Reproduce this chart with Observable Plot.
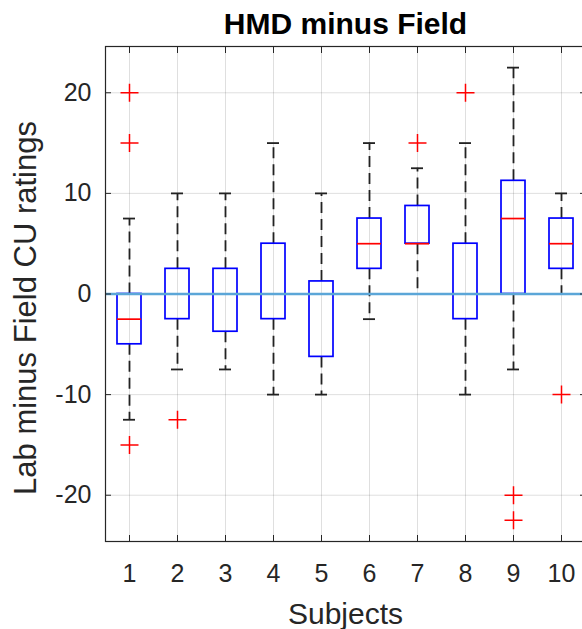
<!DOCTYPE html>
<html>
<head>
<meta charset="utf-8">
<script src="https://cdn.jsdelivr.net/npm/d3@7"></script>
<script src="https://cdn.jsdelivr.net/npm/@observablehq/plot@0.6"></script>
<style>
  html, body { margin: 0; padding: 0; background: #fff; overflow: hidden; }
</style>
</head>
<body>
<div id="chart"></div>
<script>
// Per-subject box plot statistics (HMD rating minus field rating)
const subjects     = [1, 2, 3, 4, 5, 6, 7, 8, 9, 10];
const q1           = [-5, -2.5, -3.75, -2.5, -6.25, 2.5, 5, -2.5, 0, 2.5];
const medians      = [-2.5, 0, 0, 0, 0, 5, 5, 0, 7.5, 5];
const q3           = [0, 2.5, 2.5, 5, 1.25, 7.5, 8.75, 5, 11.25, 7.5];
const lowerWhisker = [-12.5, -7.5, -7.5, -10, -10, -2.5, 0, -10, -7.5, 0];
const upperWhisker = [7.5, 10, 10, 15, 10, 15, 12.5, 15, 22.5, 10];

// Outlying ratings
const outlierSubjects = [1, 1, 1, 2, 7, 8, 9, 9, 10];
const outlierValues   = [20, 15, -15, -12.5, 15, 20, -20, -22.5, -10];

// Axis ticks
const yTicks = [-20, -10, 0, 10, 20];

const boxes = subjects.map((s, i) => ({
  subject: s, q1: q1[i], median: medians[i], q3: q3[i],
  lo: lowerWhisker[i], hi: upperWhisker[i]
}));
const outliers = outlierSubjects.map((s, i) => ({subject: s, value: outlierValues[i]}));

// "+" marker drawn as two strokes
const plus = {
  draw(context, size) {
    const r = Math.sqrt(size / Math.PI);
    context.moveTo(-r, 0); context.lineTo(r, 0);
    context.moveTo(0, -r); context.lineTo(0, r);
  }
};

const ink = "#262626";
const boxHalf = 0.25;
const capHalf = 0.125;

const chart = Plot.plot({
  width: 582,
  height: 629,
  marginLeft: 105,
  marginRight: -3,
  marginTop: 46,
  marginBottom: 88,
  style: {fontFamily: "'Liberation Sans', Arial, Helvetica, sans-serif", color: ink, background: "#fff"},
  x: {type: "linear", domain: [0.5, 10.5]},
  y: {domain: [-24.6, 24.6]},
  marks: [
    Plot.gridX(subjects, {stroke: ink, strokeOpacity: 0.15, strokeWidth: 1}),
    Plot.gridY(yTicks, {stroke: ink, strokeOpacity: 0.15, strokeWidth: 1}),

    // whiskers
    Plot.ruleX(boxes, {x: "subject", y1: "q3", y2: "hi", stroke: "#222", strokeWidth: 1.8, strokeDasharray: "11,6"}),
    Plot.ruleX(boxes, {x: "subject", y1: "q1", y2: "lo", stroke: "#222", strokeWidth: 1.8, strokeDasharray: "11,6"}),
    Plot.ruleY(boxes, {y: "hi", x1: d => d.subject - capHalf, x2: d => d.subject + capHalf, stroke: "#222", strokeWidth: 1.8}),
    Plot.ruleY(boxes, {y: "lo", x1: d => d.subject - capHalf, x2: d => d.subject + capHalf, stroke: "#222", strokeWidth: 1.8}),

    // interquartile boxes and medians
    Plot.rect(boxes, {x1: d => d.subject - boxHalf, x2: d => d.subject + boxHalf, y1: "q1", y2: "q3",
      fill: "none", stroke: "#0000ff", strokeWidth: 1.7}),
    Plot.ruleY(boxes, {y: "median", x1: d => d.subject - boxHalf, x2: d => d.subject + boxHalf, stroke: "#ff0000", strokeWidth: 1.7}),

    // outliers
    Plot.dot(outliers, {x: "subject", y: "value", symbol: plus, r: 9, fill: "none", stroke: "#ff0000", strokeWidth: 1.5}),

    // zero reference line
    Plot.ruleY([0], {stroke: "#5ba6d8", strokeWidth: 2.5}),

    Plot.frame({stroke: ink, strokeWidth: 1.2}),
    Plot.axisX(subjects, {anchor: "bottom", tickSize: -6, tickPadding: 29, fontSize: 25, label: null, stroke: ink}),
    Plot.axisX(subjects, {anchor: "top", tickSize: -6, tickFormat: () => "", label: null, stroke: ink}),
    Plot.axisY(yTicks, {anchor: "left", tickSize: -6, tickPadding: 20, fontSize: 25, tickFormat: d => String(d), label: null, stroke: ink}),
    Plot.axisY(yTicks, {anchor: "right", tickSize: -6, tickFormat: () => "", label: null, stroke: ink}),

    Plot.text(["Subjects"], {frameAnchor: "bottom", lineAnchor: "top", dy: 61, fontSize: 30, fill: ink}),
    Plot.text(["Lab minus Field CU ratings"], {frameAnchor: "left", textAnchor: "middle", rotate: -90, dx: -79, dy: 14, fontSize: 31, fill: ink}),
    Plot.text(["HMD minus Field"], {frameAnchor: "top", lineAnchor: "bottom", dy: -13, fontSize: 30, fontWeight: "bold", fill: "#000"})
  ]
});

document.getElementById("chart").append(chart);
</script>
</body>
</html>
